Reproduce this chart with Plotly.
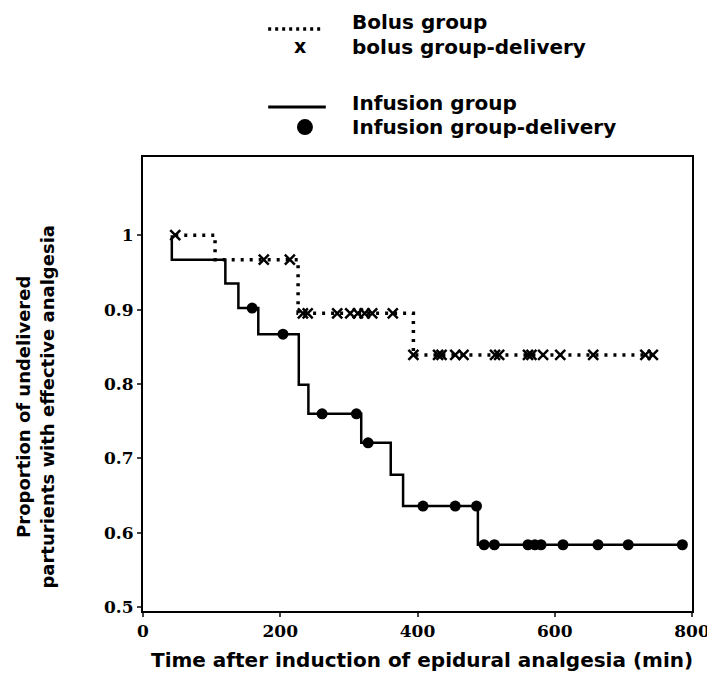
import plotly.graph_objects as go

# Kaplan-Meier step curves (time in min, proportion)
bolus_time = [47, 105, 226, 394, 743]
bolus_prop = [1.0, 0.967, 0.895, 0.839, 0.839]
infusion_time = [42, 42, 120, 139, 168, 227, 241, 318, 361, 379, 488, 786]
infusion_prop = [1.0, 0.967, 0.935, 0.902, 0.867, 0.799, 0.760, 0.721, 0.678, 0.636, 0.584, 0.584]

# delivery (censoring) marks
bolus_del_time = [47, 176, 214, 233, 240, 283, 302, 313, 323, 334, 364,
                  394, 430, 435, 455, 467, 513, 519, 561, 566, 583, 608, 656, 732, 743]
bolus_del_prop = [1.0, 0.967, 0.967, 0.895, 0.895, 0.895, 0.895, 0.895, 0.895, 0.895, 0.895,
                  0.839, 0.839, 0.839, 0.839, 0.839, 0.839, 0.839, 0.839, 0.839, 0.839,
                  0.839, 0.839, 0.839, 0.839]
infusion_del_time = [159, 204, 261, 311, 328, 408, 455, 486, 497, 512, 561, 571, 580, 612, 663, 707, 786]
infusion_del_prop = [0.902, 0.867, 0.760, 0.760, 0.721, 0.636, 0.636, 0.636,
                     0.584, 0.584, 0.584, 0.584, 0.584, 0.584, 0.584, 0.584, 0.584]

x_ticks = [0, 200, 400, 600, 800]
y_ticks = [0.5, 0.6, 0.7, 0.8, 0.9, 1.0]
y_tick_text = ["0.5", "0.6", "0.7", "0.8", "0.9", "1"]

legend_labels = ["Bolus group", "bolus group-delivery", "Infusion group", "Infusion group-delivery"]

SANS = "DejaVu Sans"
SERIF = "DejaVu Serif"

fig = go.Figure()
fig.add_trace(go.Scatter(x=bolus_time, y=bolus_prop, mode="lines", line_shape="hv",
                         line=dict(color="black", width=3.5, dash="3px,6px"),
                         name=legend_labels[0]))
fig.add_trace(go.Scatter(x=bolus_del_time, y=bolus_del_prop, mode="markers",
                         marker=dict(symbol="x-thin-open", size=10, color="black",
                                     line=dict(color="black", width=2.5)),
                         name=legend_labels[1]))
fig.add_trace(go.Scatter(x=infusion_time, y=infusion_prop, mode="lines", line_shape="hv",
                         line=dict(color="black", width=2.5),
                         name=legend_labels[2]))
fig.add_trace(go.Scatter(x=infusion_del_time, y=infusion_del_prop, mode="markers",
                         marker=dict(symbol="circle", size=11, color="black"),
                         name=legend_labels[3]))

# ---- manual legend (above the plot) ----
lx0, lx1 = 0.228, 0.328
fig.add_shape(type="line", xref="paper", yref="paper", x0=lx0, x1=lx1, y0=1.282, y1=1.282,
              line=dict(color="black", width=3.5, dash="3px,4px"))
fig.add_shape(type="line", xref="paper", yref="paper", x0=lx0, x1=lx1 + 0.005, y0=1.110, y1=1.110,
              line=dict(color="black", width=3))
fig.add_shape(type="circle", xref="paper", yref="paper", xsizemode="pixel", ysizemode="pixel",
              xanchor=0.295, yanchor=1.066, x0=-8, x1=8, y0=-8, y1=8,
              fillcolor="black", line=dict(color="black", width=0))
fig.add_annotation(text="x", xref="paper", yref="paper", x=0.286, y=1.245,
                   xanchor="center", yanchor="middle", showarrow=False,
                   font=dict(family=SANS, size=19, color="black", weight="bold"))
text_x = 0.377
for lbl, ty in zip(legend_labels, [1.297, 1.242, 1.119, 1.066]):
    fig.add_annotation(text=lbl, xref="paper", yref="paper", x=text_x, y=ty,
                       xanchor="left", yanchor="middle", showarrow=False,
                       font=dict(family=SANS, size=20, color="black", weight="bold"))

# ---- axis titles ----
fig.add_annotation(text="Time after induction of epidural analgesia (min)",
                   xref="paper", yref="paper", x=0.508, y=-0.108, xanchor="center", yanchor="middle",
                   showarrow=False, font=dict(family=SANS, size=20, color="black", weight="bold"))
fig.add_annotation(text="Proportion of undelivered<br>parturients with effective analgesia",
                   xref="paper", yref="paper", x=-0.197, y=0.45, xanchor="center", yanchor="middle",
                   textangle=-90, showarrow=False,
                   font=dict(family=SANS, size=18, color="black", weight="bold"))

fig.update_layout(
    width=715, height=682,
    margin=dict(l=135, r=31, t=149, b=79, autoexpand=False),
    paper_bgcolor="white", plot_bgcolor="white",
    showlegend=False,
    xaxis=dict(range=[0, 800], tickvals=x_ticks, ticks="outside", ticklen=4, tickwidth=2,
               showline=True, mirror=True, linecolor="black", linewidth=2,
               showgrid=False, zeroline=False,
               tickfont=dict(family=SERIF, size=17, color="black", weight="bold")),
    yaxis=dict(range=[0.495, 1.105], tickvals=y_ticks, ticktext=y_tick_text,
               ticks="outside", ticklen=4, tickwidth=2,
               showline=True, mirror=True, linecolor="black", linewidth=2,
               showgrid=False, zeroline=False,
               tickfont=dict(family=SERIF, size=17, color="black", weight="bold")),
)

fig.write_html("out.html")
